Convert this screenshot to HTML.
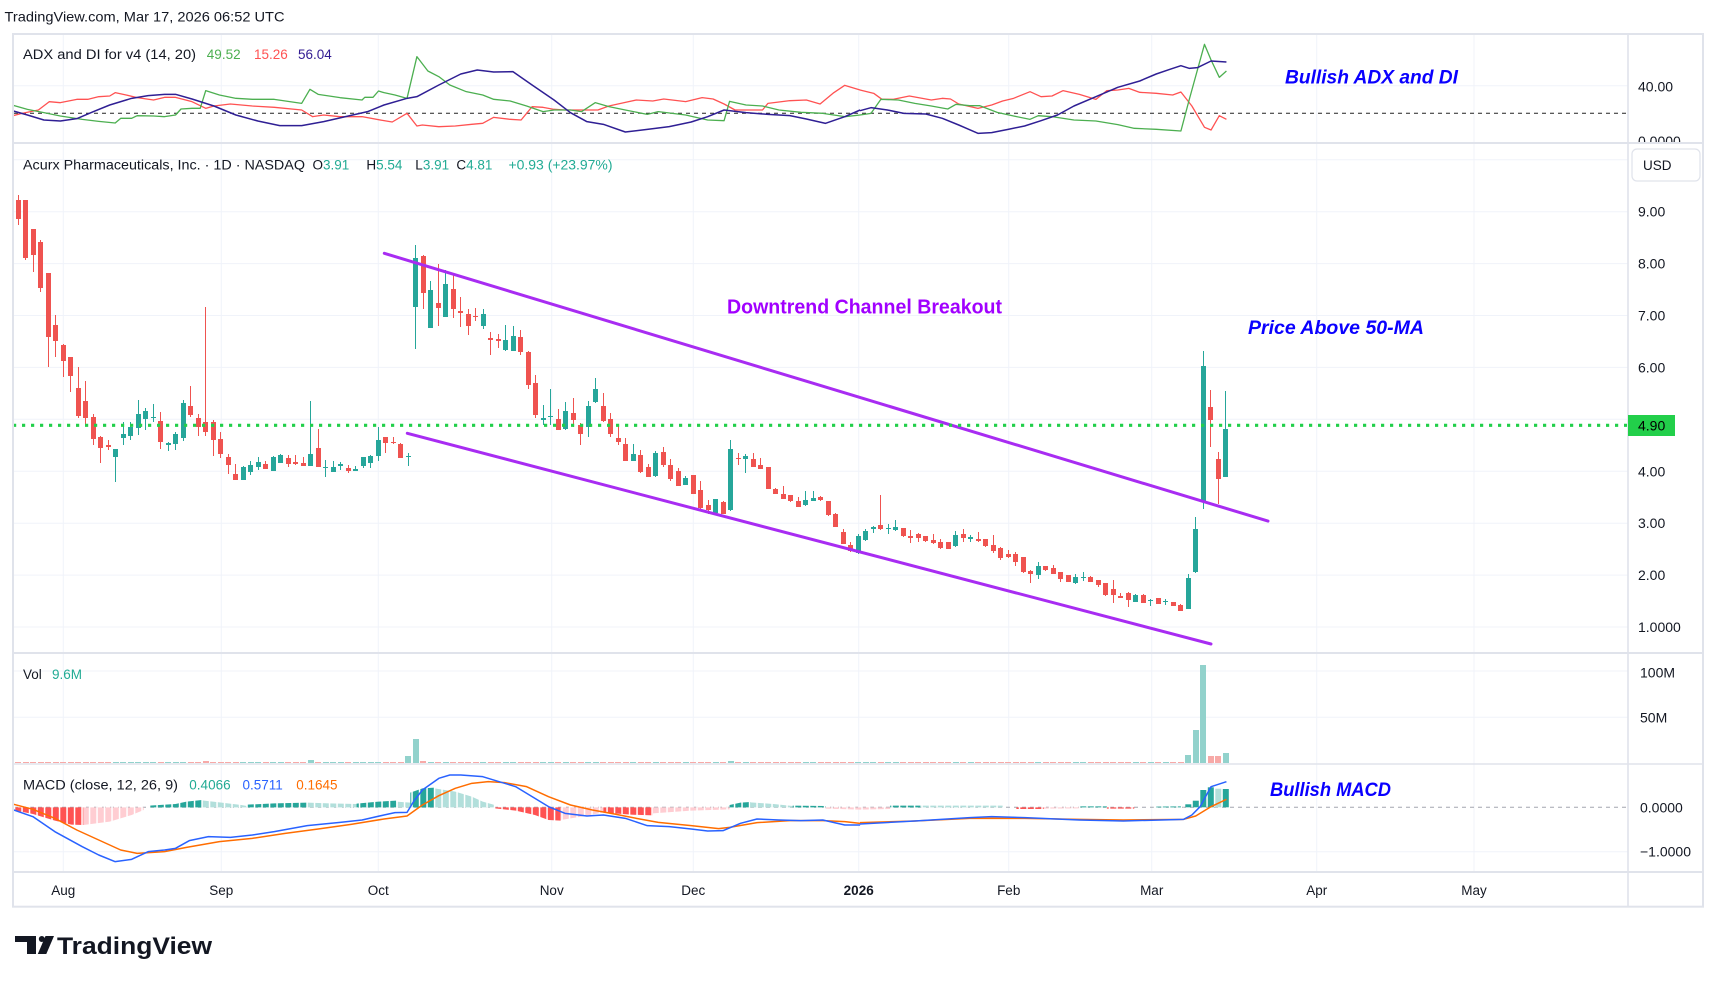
<!DOCTYPE html>
<html><head><meta charset="utf-8"><title>ACXP chart</title>
<style>
html,body{margin:0;padding:0;background:#fff;}
body{position:relative;width:1717px;height:982px;overflow:hidden;}
svg{display:block;position:absolute;left:0;top:0;}
text{font-family:"Liberation Sans",Arial,sans-serif;}
#cd{position:absolute;left:14.55px;top:0;display:flex;height:982px;}
#cd>div{display:flex;height:982px;}
.sA{--o:180px}.sB{--o:230px}.sC{--o:330px}
#cd i{position:relative;display:block;width:7.5px;height:982px;flex:none;}
#cd i.u{--c:#26a69a;--vc:#92d2cc}
#cd i.d{--c:#ef5350;--vc:#f7a9a7}
#cd i::before{content:"";position:absolute;left:3.15px;width:1.2px;top:calc(var(--wt)*1px/3 + var(--o));height:calc((var(--wb) - var(--wt))*1px/3 + 0.5px);background:var(--c);}
#cd i::after{content:"";position:absolute;left:1.15px;width:5.2px;top:calc(var(--bt)*1px/3 + var(--o));height:max(1.2px,calc((var(--bb) - var(--bt))*1px/3));background:var(--c);}
#cd b{position:absolute;left:0.75px;width:6px;top:calc(763.2px - var(--v,1.6px));height:var(--v,1.6px);background:var(--vc);}
</style></head><body>

<svg width="1717" height="982" viewBox="0 0 1717 982" xmlns="http://www.w3.org/2000/svg">
<rect width="1717" height="982" fill="#fff"/>
<g stroke="#f0f3fa" stroke-width="1" fill="none">
  <line x1="63.3" x2="63.3" y1="35" y2="871"/>
  <line x1="221.3" x2="221.3" y1="35" y2="871"/>
  <line x1="378.3" x2="378.3" y1="35" y2="871"/>
  <line x1="551.7" x2="551.7" y1="35" y2="871"/>
  <line x1="693.3" x2="693.3" y1="35" y2="871"/>
  <line x1="858.7" x2="858.7" y1="35" y2="871"/>
  <line x1="1008.7" x2="1008.7" y1="35" y2="871"/>
  <line x1="1151.7" x2="1151.7" y1="35" y2="871"/>
  <line x1="1316.7" x2="1316.7" y1="35" y2="871"/>
  <line x1="1474" x2="1474" y1="35" y2="871"/>
  <line x1="14" x2="1628" y1="85.7" y2="85.7"/>
  <line x1="14" x2="1628" y1="159.8" y2="159.8"/>
  <line x1="14" x2="1628" y1="211.7" y2="211.7"/>
  <line x1="14" x2="1628" y1="263.6" y2="263.6"/>
  <line x1="14" x2="1628" y1="315.5" y2="315.5"/>
  <line x1="14" x2="1628" y1="367.4" y2="367.4"/>
  <line x1="14" x2="1628" y1="419.3" y2="419.3"/>
  <line x1="14" x2="1628" y1="471.3" y2="471.3"/>
  <line x1="14" x2="1628" y1="523.2" y2="523.2"/>
  <line x1="14" x2="1628" y1="575.1" y2="575.1"/>
  <line x1="14" x2="1628" y1="627" y2="627"/>
  <line x1="14" x2="1628" y1="671" y2="671"/>
  <line x1="14" x2="1628" y1="717.3" y2="717.3"/>
  <line x1="14" x2="1628" y1="851.7" y2="851.7"/>
</g>
</svg>

<div id="cd">
<div class="sA">
<i class="d" style="--bt:60;--bb:118;--wt:45;--wb:133"><b></b></i>
<i class="d" style="--bt:60;--bb:233;--wt:60;--wb:238"><b></b></i>
<i class="d" style="--bt:147;--bb:224;--wt:147;--wb:275"><b></b></i>
<i class="d" style="--bt:186;--bb:323;--wt:180;--wb:335"><b></b></i>
<i class="d" style="--bt:279;--bb:470;--wt:279;--wb:560"><b></b></i>
<i class="d" style="--bt:435;--bb:482;--wt:405;--wb:530"><b></b></i>
<i class="d" style="--bt:495;--bb:542;--wt:492;--wb:590"><b></b></i>
<i class="d" style="--bt:531;--bb:587;--wt:531;--wb:635"><b></b></i>
<i class="d" style="--bt:624;--bb:707;--wt:561;--wb:713"><b></b></i>
<i class="d" style="--bt:663;--bb:713;--wt:603;--wb:731"><b></b></i>
<i class="d" style="--bt:711;--bb:776;--wt:702;--wb:794"><b></b></i>
<i class="d" style="--bt:771;--bb:803;--wt:768;--wb:848"><b></b></i>
<i class="d" style="--bt:795;--bb:800;--wt:780;--wb:809"><b></b></i>
<i class="u" style="--bt:807;--bb:830;--wt:807;--wb:905"><b></b></i>
<i class="u" style="--bt:762;--bb:773;--wt:726;--wb:794"><b></b></i>
<i class="u" style="--bt:741;--bb:767;--wt:726;--wb:779"><b></b></i>
<i class="u" style="--bt:702;--bb:743;--wt:660;--wb:764"><b></b></i>
<i class="u" style="--bt:693;--bb:716;--wt:684;--wb:749"><b></b></i>
<i class="u" style="--bt:711;--bb:713;--wt:672;--wb:725"><b></b></i>
<i class="d" style="--bt:723;--bb:785;--wt:696;--wb:806"><b></b></i>
<i class="u" style="--bt:789;--bb:794;--wt:786;--wb:812"><b></b></i>
<i class="u" style="--bt:762;--bb:791;--wt:756;--wb:809"><b></b></i>
<i class="u" style="--bt:669;--bb:773;--wt:660;--wb:782"><b></b></i>
<i class="d" style="--bt:678;--bb:705;--wt:618;--wb:710"><b></b></i>
<i class="d" style="--bt:714;--bb:740;--wt:702;--wb:767"><b></b></i>
<i class="d" style="--bt:726;--bb:755;--wt:381;--wb:767"><b style="--v:2.7px"></b></i>
<i class="d" style="--bt:726;--bb:779;--wt:720;--wb:827"><b></b></i>
<i class="d" style="--bt:777;--bb:821;--wt:756;--wb:833"><b></b></i>
<i class="d" style="--bt:831;--bb:854;--wt:822;--wb:881"><b></b></i>
<i class="d" style="--bt:882;--bb:899;--wt:852;--wb:899"><b></b></i>
<i class="u" style="--bt:861;--bb:899;--wt:858;--wb:899"><b></b></i>
<i class="u" style="--bt:855;--bb:875;--wt:843;--wb:884"><b></b></i>
<i class="u" style="--bt:846;--bb:860;--wt:831;--wb:869"><b></b></i>
<i class="d" style="--bt:852;--bb:866;--wt:843;--wb:866"><b></b></i>
<i class="u" style="--bt:831;--bb:872;--wt:828;--wb:872"><b></b></i>
<i class="u" style="--bt:825;--bb:848;--wt:822;--wb:848"><b></b></i>
<i class="d" style="--bt:834;--bb:851;--wt:825;--wb:860"><b></b></i>
<i class="d" style="--bt:846;--bb:851;--wt:825;--wb:854"><b></b></i>
<i class="d" style="--bt:849;--bb:857;--wt:831;--wb:857"><b></b></i>
<i class="u" style="--bt:822;--bb:857;--wt:663;--wb:857"><b style="--v:3px"></b></i>
<i class="d" style="--bt:803;--bb:860;--wt:747;--wb:860"><b></b></i>
<i class="u" style="--bt:860;--bb:862;--wt:840;--wb:890"><b></b></i>
<i class="u" style="--bt:861;--bb:875;--wt:843;--wb:875"><b></b></i>
<i class="u" style="--bt:852;--bb:857;--wt:846;--wb:869"><b></b></i>
<i class="d" style="--bt:864;--bb:872;--wt:855;--wb:878"><b></b></i>
<i class="u" style="--bt:867;--bb:872;--wt:858;--wb:872"><b></b></i>
<i class="u" style="--bt:831;--bb:857;--wt:831;--wb:863"><b></b></i>
<i class="u" style="--bt:828;--bb:848;--wt:825;--wb:863"><b></b></i>
<i class="u" style="--bt:780;--bb:827;--wt:741;--wb:842"><b></b></i>
<i class="d" style="--bt:771;--bb:788;--wt:771;--wb:818"><b></b></i>
<i class="d" style="--bt:786;--bb:789;--wt:771;--wb:791"><b></b></i>
<i class="d" style="--bt:792;--bb:833;--wt:789;--wb:833"><b></b></i>
<i class="u" style="--bt:828;--bb:830;--wt:818;--wb:857"><b style="--v:7px"></b></i>
</div>
<div class="sB">
<i class="u" style="--bt:84;--bb:230;--wt:45;--wb:356"><b style="--v:24.7px"></b></i>
<i class="d" style="--bt:77;--bb:188;--wt:75;--wb:236"><b style="--v:2.7px"></b></i>
<i class="u" style="--bt:180;--bb:293;--wt:153;--wb:293"><b></b></i>
<i class="d" style="--bt:219;--bb:233;--wt:102;--wb:285"><b></b></i>
<i class="u" style="--bt:162;--bb:260;--wt:121;--wb:260"><b></b></i>
<i class="d" style="--bt:177;--bb:236;--wt:129;--wb:263"><b></b></i>
<i class="d" style="--bt:243;--bb:250;--wt:201;--wb:290"><b></b></i>
<i class="d" style="--bt:252;--bb:287;--wt:237;--wb:314"><b></b></i>
<i class="d" style="--bt:258;--bb:260;--wt:235;--wb:272"><b></b></i>
<i class="u" style="--bt:252;--bb:287;--wt:237;--wb:296"><b></b></i>
<i class="d" style="--bt:324;--bb:329;--wt:306;--wb:374"><b></b></i>
<i class="d" style="--bt:327;--bb:334;--wt:312;--wb:351"><b></b></i>
<i class="u" style="--bt:330;--bb:360;--wt:285;--wb:362"><b></b></i>
<i class="u" style="--bt:318;--bb:362;--wt:289;--wb:362"><b></b></i>
<i class="d" style="--bt:321;--bb:365;--wt:300;--wb:374"><b></b></i>
<i class="d" style="--bt:366;--bb:464;--wt:363;--wb:476"><b></b></i>
<i class="d" style="--bt:459;--bb:554;--wt:435;--wb:563"><b></b></i>
<i class="u" style="--bt:565;--bb:568;--wt:525;--wb:582"><b></b></i>
<i class="u" style="--bt:557;--bb:560;--wt:477;--wb:584"><b></b></i>
<i class="d" style="--bt:567;--bb:599;--wt:538;--wb:599"><b></b></i>
<i class="u" style="--bt:543;--bb:596;--wt:516;--wb:598"><b></b></i>
<i class="d" style="--bt:549;--bb:569;--wt:504;--wb:590"><b></b></i>
<i class="d" style="--bt:585;--bb:611;--wt:580;--wb:644"><b></b></i>
<i class="u" style="--bt:528;--bb:590;--wt:514;--wb:620"><b></b></i>
<i class="u" style="--bt:477;--bb:516;--wt:444;--wb:516"><b></b></i>
<i class="d" style="--bt:528;--bb:573;--wt:489;--wb:575"><b></b></i>
<i class="d" style="--bt:567;--bb:611;--wt:549;--wb:620"><b></b></i>
<i class="d" style="--bt:624;--bb:635;--wt:585;--wb:644"><b></b></i>
<i class="d" style="--bt:642;--bb:692;--wt:624;--wb:692"><b></b></i>
<i class="u" style="--bt:672;--bb:692;--wt:642;--wb:692"><b></b></i>
<i class="d" style="--bt:675;--bb:725;--wt:660;--wb:728"><b></b></i>
<i class="d" style="--bt:711;--bb:740;--wt:702;--wb:740"><b></b></i>
<i class="u" style="--bt:669;--bb:738;--wt:663;--wb:740"><b></b></i>
<i class="d" style="--bt:666;--bb:705;--wt:651;--wb:708"><b></b></i>
<i class="d" style="--bt:705;--bb:747;--wt:687;--wb:750"><b></b></i>
<i class="d" style="--bt:723;--bb:767;--wt:714;--wb:767"><b></b></i>
<i class="u" style="--bt:744;--bb:764;--wt:738;--wb:764"><b></b></i>
<i class="d" style="--bt:735;--bb:791;--wt:735;--wb:791"><b></b></i>
<i class="d" style="--bt:780;--bb:833;--wt:753;--wb:836"><b></b></i>
<i class="d" style="--bt:825;--bb:839;--wt:809;--wb:851"><b></b></i>
<i class="u" style="--bt:807;--bb:848;--wt:807;--wb:852"><b></b></i>
<i class="d" style="--bt:816;--bb:851;--wt:813;--wb:851"><b></b></i>
<i class="u" style="--bt:657;--bb:839;--wt:630;--wb:842"><b style="--v:2px"></b></i>
<i class="d" style="--bt:683;--bb:686;--wt:669;--wb:704"><b></b></i>
<i class="u" style="--bt:678;--bb:686;--wt:672;--wb:728"><b></b></i>
<i class="d" style="--bt:687;--bb:710;--wt:669;--wb:710"><b></b></i>
<i class="d" style="--bt:705;--bb:716;--wt:684;--wb:716"><b></b></i>
<i class="d" style="--bt:711;--bb:776;--wt:711;--wb:776"><b></b></i>
<i class="d" style="--bt:776;--bb:791;--wt:773;--wb:791"><b></b></i>
<i class="d" style="--bt:792;--bb:806;--wt:768;--wb:806"><b></b></i>
<i class="d" style="--bt:795;--bb:812;--wt:795;--wb:815"><b></b></i>
<i class="d" style="--bt:813;--bb:830;--wt:800;--wb:830"><b></b></i>
<i class="u" style="--bt:810;--bb:825;--wt:783;--wb:825"><b></b></i>
<i class="u" style="--bt:804;--bb:812;--wt:783;--wb:812"><b></b></i>
<i class="d" style="--bt:801;--bb:810;--wt:798;--wb:812"><b></b></i>
</div>
<div class="sC">
<i class="d" style="--bt:513;--bb:555;--wt:513;--wb:555"><b></b></i>
<i class="d" style="--bt:551;--bb:590;--wt:548;--wb:590"><b></b></i>
<i class="d" style="--bt:606;--bb:641;--wt:597;--wb:641"><b></b></i>
<i class="d" style="--bt:645;--bb:663;--wt:636;--wb:663"><b></b></i>
<i class="u" style="--bt:618;--bb:670;--wt:612;--wb:670"><b></b></i>
<i class="u" style="--bt:603;--bb:630;--wt:597;--wb:630"><b></b></i>
<i class="u" style="--bt:592;--bb:594;--wt:588;--wb:608"><b></b></i>
<i class="d" style="--bt:585;--bb:597;--wt:495;--wb:597"><b></b></i>
<i class="u" style="--bt:594;--bb:598;--wt:582;--wb:611"><b></b></i>
<i class="u" style="--bt:591;--bb:600;--wt:570;--wb:600"><b></b></i>
<i class="d" style="--bt:594;--bb:618;--wt:594;--wb:618"><b></b></i>
<i class="d" style="--bt:618;--bb:625;--wt:600;--wb:636"><b></b></i>
<i class="d" style="--bt:612;--bb:623;--wt:609;--wb:633"><b></b></i>
<i class="d" style="--bt:618;--bb:633;--wt:618;--wb:633"><b></b></i>
<i class="d" style="--bt:630;--bb:639;--wt:612;--wb:639"><b></b></i>
<i class="d" style="--bt:636;--bb:654;--wt:627;--wb:654"><b></b></i>
<i class="d" style="--bt:636;--bb:656;--wt:636;--wb:656"><b></b></i>
<i class="u" style="--bt:615;--bb:648;--wt:603;--wb:648"><b></b></i>
<i class="d" style="--bt:612;--bb:623;--wt:597;--wb:633"><b></b></i>
<i class="u" style="--bt:621;--bb:626;--wt:615;--wb:633"><b></b></i>
<i class="d" style="--bt:627;--bb:633;--wt:606;--wb:633"><b></b></i>
<i class="d" style="--bt:627;--bb:648;--wt:627;--wb:648"><b></b></i>
<i class="d" style="--bt:645;--bb:663;--wt:615;--wb:666"><b></b></i>
<i class="d" style="--bt:654;--bb:684;--wt:651;--wb:687"><b></b></i>
<i class="d" style="--bt:672;--bb:681;--wt:660;--wb:681"><b></b></i>
<i class="d" style="--bt:672;--bb:696;--wt:666;--wb:705"><b></b></i>
<i class="d" style="--bt:681;--bb:726;--wt:681;--wb:726"><b></b></i>
<i class="d" style="--bt:723;--bb:731;--wt:720;--wb:756"><b></b></i>
<i class="u" style="--bt:708;--bb:735;--wt:696;--wb:744"><b></b></i>
<i class="d" style="--bt:708;--bb:720;--wt:708;--wb:720"><b></b></i>
<i class="d" style="--bt:714;--bb:731;--wt:705;--wb:731"><b></b></i>
<i class="d" style="--bt:726;--bb:747;--wt:726;--wb:753"><b></b></i>
<i class="d" style="--bt:735;--bb:755;--wt:735;--wb:755"><b></b></i>
<i class="u" style="--bt:741;--bb:759;--wt:732;--wb:759"><b></b></i>
<i class="u" style="--bt:741;--bb:744;--wt:726;--wb:750"><b></b></i>
<i class="d" style="--bt:741;--bb:755;--wt:738;--wb:755"><b></b></i>
<i class="d" style="--bt:750;--bb:765;--wt:750;--wb:768"><b></b></i>
<i class="d" style="--bt:759;--bb:795;--wt:759;--wb:795"><b></b></i>
<i class="d" style="--bt:777;--bb:795;--wt:750;--wb:816"><b></b></i>
<i class="d" style="--bt:797;--bb:803;--wt:789;--wb:803"><b></b></i>
<i class="d" style="--bt:789;--bb:809;--wt:786;--wb:830"><b></b></i>
<i class="u" style="--bt:795;--bb:815;--wt:792;--wb:815"><b></b></i>
<i class="d" style="--bt:795;--bb:818;--wt:792;--wb:818"><b></b></i>
<i class="u" style="--bt:809;--bb:812;--wt:806;--wb:827"><b></b></i>
<i class="d" style="--bt:803;--bb:821;--wt:803;--wb:821"><b></b></i>
<i class="u" style="--bt:813;--bb:817;--wt:807;--wb:824"><b></b></i>
<i class="d" style="--bt:815;--bb:827;--wt:815;--wb:827"><b></b></i>
<i class="d" style="--bt:826;--bb:842;--wt:823;--wb:842"><b></b></i>
<i class="u" style="--bt:744;--bb:836;--wt:732;--wb:836"><b style="--v:8.7px"></b></i>
<i class="u" style="--bt:597;--bb:726;--wt:561;--wb:726"><b style="--v:33px"></b></i>
<i class="u" style="--bt:108;--bb:512;--wt:63;--wb:534"><b style="--v:98.7px"></b></i>
<i class="d" style="--bt:231;--bb:269;--wt:180;--wb:350"><b style="--v:7.7px"></b></i>
<i class="d" style="--bt:387;--bb:446;--wt:366;--wb:521"><b style="--v:7.7px"></b></i>
<i class="u" style="--bt:297;--bb:440;--wt:183;--wb:440"><b style="--v:10.7px"></b></i>
</div>
</div>

<svg width="1717" height="982" viewBox="0 0 1717 982" xmlns="http://www.w3.org/2000/svg">
<defs>
<clipPath id="cA"><rect x="14" y="35" width="1613" height="107"/></clipPath>
<clipPath id="cM"><rect x="14" y="144" width="1613" height="508"/></clipPath>
<clipPath id="cD"><rect x="14" y="765" width="1613" height="106"/></clipPath>
<clipPath id="cAx"><rect x="1629" y="35" width="74" height="107"/></clipPath>
<pattern id="stp" patternUnits="userSpaceOnUse" x="21.3" y="0" width="7.5" height="10"><rect x="0" y="0" width="1.5" height="10" fill="#fff"/></pattern>
</defs>

<!-- ADX pane -->
<g clip-path="url(#cA)">
  <line x1="14" x2="1628" y1="113.3" y2="113.3" stroke="#222" stroke-width="1" stroke-dasharray="4 4"/>
  <g transform="scale(0.54855,0.333333)" fill="none" stroke-linejoin="round">
    <polyline vector-effect="non-scaling-stroke" stroke="#ff5252" stroke-width="1.3" points="22,348 40,340 70,330 90,305 110,308 140,298 160,298 180,290 200,288 210,278 230,285 250,293 280,300 300,292 320,292 350,305 375,325 390,318 420,312 460,318 500,322 550,330 570,350 590,345 620,350 660,350 700,362 715,366 742,340 760,378 770,375 800,380 830,378 860,373 880,370 900,352 930,358 950,360 970,320 990,322 1010,328 1030,330 1060,330 1090,330 1110,318 1140,307 1160,300 1190,303 1210,297 1250,305 1280,293 1300,297 1320,312 1340,330 1360,330 1390,330 1400,310 1440,302 1470,300 1495,312 1520,278 1540,256 1568,270"/>
    <polyline vector-effect="non-scaling-stroke" stroke="#4caf50" stroke-width="1.3" points="22,315 50,328 80,338 110,348 150,358 180,364 210,369 220,355 240,355 250,347 280,348 300,350 320,345 330,327 350,325 365,325 375,272 400,285 430,295 460,298 500,298 550,310 565,268 580,283 620,293 660,300 665,292 680,292 690,273 700,278 720,285 742,295 760,170 780,213 800,230 820,255 850,275 880,285 900,298 930,303 960,318 990,335 1010,330 1040,330 1060,335 1085,308 1110,320 1140,330 1180,343 1200,335 1250,345 1290,360 1320,362 1330,304 1360,315 1390,318 1420,330 1460,337 1500,340 1540,350 1568,345"/>
    <polyline vector-effect="non-scaling-stroke" stroke="#2f1f94" stroke-width="1.5" points="22,332 50,345 80,360 110,363 140,356 170,335 200,315 240,295 270,287 300,283 320,283 350,297 390,318 430,345 470,363 510,377 550,377 590,365 630,350 670,335 700,315 742,295 760,290 800,255 840,222 870,210 900,216 935,215 970,255 1010,300 1040,338 1070,365 1100,373 1140,396 1180,388 1220,380 1260,366 1290,350 1320,330 1360,338 1400,343 1440,347 1470,357 1505,370 1540,350 1568,330"/>
  </g>
  <g transform="translate(860,0) scale(0.54855,0.333333)" fill="none" stroke-linejoin="round">
    <polyline vector-effect="non-scaling-stroke" stroke="#ff5252" stroke-width="1.3" points="0,270 25,280 40,298 60,298 90,288 130,300 150,295 165,297 180,312 215,325 240,315 260,303 280,295 310,275 330,290 350,288 370,272 400,283 430,298 450,272 470,270 490,265 510,277 540,280 570,285 585,276 605,318 628,382 640,390 655,347 668,358"/>
    <polyline vector-effect="non-scaling-stroke" stroke="#4caf50" stroke-width="1.3" points="0,345 20,340 38,298 70,300 100,310 130,318 160,327 175,313 200,317 218,317 250,337 280,348 310,358 325,347 350,350 390,360 430,363 470,374 500,385 540,388 585,393 600,300 628,133 640,180 655,232 668,213"/>
    <polyline vector-effect="non-scaling-stroke" stroke="#2f1f94" stroke-width="1.5" points="0,332 20,323 50,330 80,340 120,342 150,355 180,375 215,400 240,398 270,388 300,378 330,362 360,345 390,318 430,290 470,262 510,243 540,222 565,208 585,197 600,205 615,203 640,183 668,186"/>
  </g>
</g>

<!-- main pane overlays -->
<g clip-path="url(#cM)">
  <line x1="384.3" y1="253.3" x2="1268" y2="521.1" stroke="#a82cf2" stroke-width="3" stroke-linecap="round"/>
  <line x1="407.3" y1="433.3" x2="1211" y2="644" stroke="#a82cf2" stroke-width="3" stroke-linecap="round"/>
  <line x1="13" x2="1628" y1="425.3" y2="425.3" stroke="#22cf4a" stroke-width="3.2" stroke-dasharray="3.2 5.8"/>
</g>

<!-- MACD pane -->
<g clip-path="url(#cD)">
  <line x1="14" x2="1628" y1="807.3" y2="807.3" stroke="#a3a6af" stroke-width="1" stroke-dasharray="4 4"/>
  <g transform="translate(0,650) scale(0.54855,0.333333)">
    <polygon fill="#ff5252" points="23,472 23,480 60,492 100,512 130,524 152,525 152,472"/>
    <polygon fill="#ffcdd2" points="152,472 152,525 200,515 240,495 262,480 262,472"/>
    <polygon fill="#26a69a" points="272,472 272,467 320,462 340,455 368,450 368,472"/>
    <polygon fill="#b2dfdb" points="368,472 368,451 400,457 440,465 450,468 450,472"/>
    <polygon fill="#26a69a" points="450,472 450,464 500,460 560,458 560,472"/>
    <polygon fill="#b2dfdb" points="560,472 560,458 600,460 650,462 650,472"/>
    <polygon fill="#26a69a" points="650,472 650,461 690,455 722,452 722,472"/>
    <polygon fill="#b2dfdb" points="722,472 722,455 748,458 748,472"/>
    <polygon fill="#26a69a" points="748,472 748,428 770,415 792,413 792,472"/>
    <polygon fill="#b2dfdb" points="792,472 792,415 830,425 860,440 880,455 902,465 902,472"/>
    <polygon fill="#ff5252" points="902,472 902,475 940,482 975,495 1000,510 1022,512 1022,472"/>
    <polygon fill="#ffcdd2" points="1022,472 1022,510 1060,500 1100,487 1100,472"/>
    <polygon fill="#ff5252" points="1100,472 1100,488 1150,494 1190,496 1190,472"/>
    <polygon fill="#ffcdd2" points="1190,472 1190,490 1260,482 1330,478 1330,472"/>
    <polygon fill="#26a69a" points="1330,472 1330,465 1350,458 1368,456 1368,472"/>
    <polygon fill="#b2dfdb" points="1368,472 1368,457 1410,462 1445,468 1445,472"/>
    <polygon fill="#26a69a" points="1445,472 1445,467 1505,468 1505,472"/>
    <polygon fill="#ffcdd2" points="1505,472 1505,476 1568,479 1568,472"/>
  </g>
  <g transform="translate(860,650) scale(0.54855,0.333333)">
    <polygon fill="#ffcdd2" points="0,472 0,479 55,477 55,472"/>
    <polygon fill="#26a69a" points="55,472 55,467 110,467 110,472"/>
    <polygon fill="#b2dfdb" points="110,472 110,467 260,467 260,472"/>
    <polygon fill="#ff5252" points="285,472 285,477 335,477 335,472"/>
    <polygon fill="#ffcdd2" points="335,472 335,476 400,475 400,472"/>
    <polygon fill="#26a69a" points="400,472 400,469 450,469 450,472"/>
    <polygon fill="#ff5252" points="450,472 450,476 500,476 500,472"/>
    <polygon fill="#26a69a" points="540,472 540,470 585,469 585,472"/>
  </g>
  <rect x="14" y="775" width="1170" height="60" fill="url(#stp)"/>
  <g>
    <rect x="1185.3" y="804.3" width="6" height="3" fill="#26a69a"/>
    <rect x="1192.8" y="800.7" width="6" height="6.6" fill="#26a69a"/>
    <rect x="1200.3" y="790" width="6" height="17.3" fill="#26a69a"/>
    <rect x="1207.8" y="787.3" width="6" height="20" fill="#26a69a"/>
    <rect x="1215.3" y="788.7" width="6" height="18.6" fill="#b2dfdb"/>
    <rect x="1222.8" y="789" width="6" height="18.3" fill="#26a69a"/>
  </g>
  <g transform="translate(0,650) scale(0.54855,0.333333)" fill="none" stroke-linejoin="round">
    <polyline vector-effect="non-scaling-stroke" stroke="#ff6d00" stroke-width="1.5" points="25,463 60,478 100,505 140,540 180,570 220,600 250,610 300,605 340,592 400,575 460,565 520,550 580,537 640,523 700,507 742,498 770,465 800,437 830,415 860,400 890,395 920,398 960,410 1000,440 1040,465 1080,480 1120,492 1160,505 1200,517 1260,527 1310,536 1330,532 1380,518 1440,512 1500,512 1540,515 1568,520"/>
    <polyline vector-effect="non-scaling-stroke" stroke="#2962ff" stroke-width="1.5" points="25,480 60,500 100,545 150,590 180,615 210,635 240,628 270,605 300,600 320,595 345,572 380,560 420,562 460,555 500,545 560,527 620,517 660,510 700,495 720,488 742,487 755,452 770,420 800,385 820,375 840,375 880,380 910,395 940,410 970,440 1000,470 1030,490 1070,498 1100,495 1140,505 1180,527 1220,530 1260,537 1290,543 1318,542 1350,520 1380,507 1420,510 1460,512 1500,510 1540,525 1568,525"/>
  </g>
  <g transform="translate(860,650) scale(0.54855,0.333333)" fill="none" stroke-linejoin="round">
    <polyline vector-effect="non-scaling-stroke" stroke="#ff6d00" stroke-width="1.5" points="0,518 100,513 200,505 300,505 400,508 480,510 590,508 612,498 640,470 668,448"/>
    <polyline vector-effect="non-scaling-stroke" stroke="#2962ff" stroke-width="1.5" points="0,522 100,513 200,503 240,500 300,503 400,510 480,513 590,508 605,495 620,470 640,410 668,395"/>
  </g>
</g>

<!-- frame & separators -->
<g stroke="#e0e3eb" fill="none">
  <rect x="13" y="34" width="1690" height="872.7" stroke-width="2"/>
  <line x1="13" x2="1703" y1="143" y2="143" stroke-width="2"/>
  <line x1="13" x2="1703" y1="653" y2="653" stroke-width="2"/>
  <line x1="13" x2="1703" y1="764" y2="764" stroke-width="1.6"/>
  <line x1="13" x2="1703" y1="872" y2="872" stroke-width="2"/>
  <line x1="1628" x2="1628" y1="34" y2="907" stroke-width="1.6"/>
</g>

<!-- header -->
<text x="4.5" y="21.7" font-size="14" fill="#131722" textLength="280" lengthAdjust="spacingAndGlyphs">TradingView.com, Mar 17, 2026 06:52 UTC</text>

<!-- ADX legend -->
<text x="23" y="59" font-size="13.5" fill="#131722" textLength="173" lengthAdjust="spacingAndGlyphs">ADX and DI for v4 (14, 20)</text>
<text x="206.8" y="59" font-size="13.5" fill="#4caf50">49.52</text>
<text x="254" y="59" font-size="13.5" fill="#ff5252">15.26</text>
<text x="298" y="59" font-size="13.5" fill="#311b92">56.04</text>

<!-- main legend -->
<text x="23" y="169.3" font-size="13.5" fill="#131722" textLength="282" lengthAdjust="spacingAndGlyphs">Acurx Pharmaceuticals, Inc. · 1D · NASDAQ</text>
<text x="312.5" y="169.3" font-size="13.5" fill="#131722">O<tspan fill="#22ab94">3.91</tspan></text>
<text x="366.4" y="169.3" font-size="13.5" fill="#131722">H<tspan fill="#22ab94">5.54</tspan></text>
<text x="415.3" y="169.3" font-size="13.5" fill="#131722">L<tspan fill="#22ab94">3.91</tspan></text>
<text x="456.4" y="169.3" font-size="13.5" fill="#131722">C<tspan fill="#22ab94">4.81</tspan></text>
<text x="508.5" y="169.3" font-size="13.5" fill="#22ab94" textLength="104" lengthAdjust="spacingAndGlyphs">+0.93 (+23.97%)</text>

<!-- vol legend -->
<text x="23" y="679" font-size="13.5" fill="#131722">Vol</text>
<text x="52" y="679" font-size="13.5" fill="#22ab94">9.6M</text>

<!-- MACD legend -->
<text x="23" y="789.3" font-size="13.5" fill="#131722" textLength="155" lengthAdjust="spacingAndGlyphs">MACD (close, 12, 26, 9)</text>
<text x="189.3" y="789.3" font-size="13.5" fill="#22ab94">0.4066</text>
<text x="242.5" y="789.3" font-size="13.5" fill="#2962ff">0.5711</text>
<text x="296.2" y="789.3" font-size="13.5" fill="#ff6d00">0.1645</text>

<!-- annotations -->
<text x="727" y="313.3" font-size="20" font-weight="bold" fill="#a100ff" textLength="275" lengthAdjust="spacingAndGlyphs">Downtrend Channel Breakout</text>
<text x="1248" y="334" font-size="19" font-weight="bold" font-style="italic" fill="#0a00ff" textLength="176" lengthAdjust="spacingAndGlyphs">Price Above 50-MA</text>
<text x="1285" y="83.5" font-size="19" font-weight="bold" font-style="italic" fill="#0a00ff" textLength="173" lengthAdjust="spacingAndGlyphs">Bullish ADX and DI</text>
<text x="1270" y="796" font-size="19" font-weight="bold" font-style="italic" fill="#0a00ff" textLength="121" lengthAdjust="spacingAndGlyphs">Bullish MACD</text>

<!-- right axis labels -->
<g font-size="14" fill="#131722">
  <text x="1638" y="91.7">40.00</text>
  <g clip-path="url(#cAx)"><text x="1638" y="146">0.0000</text></g>
  <rect x="1632" y="149" width="68" height="32" rx="5" fill="#fff" stroke="#e0e3eb" stroke-width="1.2"/>
  <text x="1643" y="170" font-size="13.5">USD</text>
  <text x="1638" y="216.7">9.00</text>
  <text x="1638" y="268.6">8.00</text>
  <text x="1638" y="320.5">7.00</text>
  <text x="1638" y="372.4">6.00</text>
  <text x="1638" y="424.3">5.00</text>
  <text x="1638" y="476.3">4.00</text>
  <text x="1638" y="528.2">3.00</text>
  <text x="1638" y="580.1">2.00</text>
  <text x="1638" y="632">1.0000</text>
  <text x="1640" y="677.3">100M</text>
  <text x="1640" y="722.3">50M</text>
  <text x="1640" y="812.3">0.0000</text>
  <text x="1640" y="856.7">−1.0000</text>
</g>
<rect x="1628" y="415" width="47" height="21" fill="#22cf4a"/>
<text x="1638" y="430.6" font-size="14" fill="#000">4.90</text>

<!-- time axis -->
<g font-size="13.5" fill="#131722" text-anchor="middle">
  <text x="63.3" y="895">Aug</text>
  <text x="221.3" y="895">Sep</text>
  <text x="378.3" y="895">Oct</text>
  <text x="551.7" y="895">Nov</text>
  <text x="693.3" y="895">Dec</text>
  <text x="858.7" y="895" font-weight="bold">2026</text>
  <text x="1008.7" y="895">Feb</text>
  <text x="1151.7" y="895">Mar</text>
  <text x="1316.7" y="895">Apr</text>
  <text x="1474" y="895">May</text>
</g>

<!-- TradingView logo -->
<g fill="#131722">
  <rect x="15" y="936" width="21" height="6"/>
  <rect x="27" y="936" width="9" height="18"/>
  <circle cx="41.8" cy="939" r="3"/>
  <polygon points="45.5,936 54,936 46.3,954 37.8,954"/>
  <text x="57" y="954" font-size="24" font-weight="bold" textLength="155" lengthAdjust="spacingAndGlyphs">TradingView</text>
</g>
</svg>
</body></html>
